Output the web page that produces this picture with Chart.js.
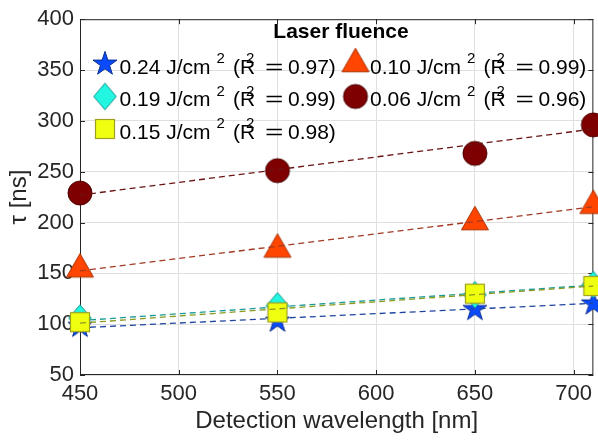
<!DOCTYPE html>
<html><head><meta charset="utf-8">
<script src="https://cdn.jsdelivr.net/npm/chart.js@4.4.1/dist/chart.umd.min.js"></script>
<style>html,body{margin:0;padding:0;background:#fff;overflow:hidden;} #wrap{width:598px;height:441px;position:relative;}</style>
</head><body><div id="wrap"><canvas id="c" width="598" height="441"></canvas></div>
<script>
// ---- data ----
const wavelengths = [450, 550, 650, 710];
const fluenceLabels = ['0.24', '0.19', '0.15', '0.10', '0.06'];
const r2Labels = ['0.97', '0.99', '0.98', '0.99', '0.96'];
const tau024 = [98, 103, 114.5, 120];
const tau019 = [106, 118, 129, 139];
const tau015 = [102, 111.5, 130, 137.5];
const tau010 = [154, 173.5, 200.5, 216.5];
const tau006 = [229, 251, 268, 296];
const fitRange = [450, 710];
const fit024 = [96.5, 120.5];
const fit019 = [103.5, 138.5];
const fit015 = [101, 137.5];
const fit010 = [152.5, 215.5];
const fit006 = [227, 292];
const xTicks = [450, 500, 550, 600, 650, 700];
const yTicks = [50, 100, 150, 200, 250, 300, 350, 400];
const xLabel = 'Detection wavelength [nm]';
const yLabel = 'τ [ns]';
const legendTitle = 'Laser fluence';

const FONT = '"Liberation Sans", Arial, Helvetica, sans-serif';
const AX = '#262626';

// ---- marker images ----
function mk(w, h, draw) {
  const c = document.createElement('canvas');
  c.width = w; c.height = h;
  const g = c.getContext('2d');
  draw(g);
  return c;
}
function star(fill, edge) {
  return mk(28, 28, g => {
    const cx = 14, cy = 14, R = 12.6, r = R * 0.382;
    g.beginPath();
    for (let i = 0; i < 10; i++) {
      const a = -Math.PI / 2 + i * Math.PI / 5;
      const rr = i % 2 ? r : R;
      g.lineTo(cx + rr * Math.cos(a), cy + rr * Math.sin(a));
    }
    g.closePath(); g.fillStyle = fill; g.fill();
    g.lineWidth = 1; g.strokeStyle = edge; g.stroke();
  });
}
function diamond(fill, edge) {
  return mk(26, 30, g => {
    g.beginPath();
    g.moveTo(13, 1.7); g.lineTo(24.3, 15); g.lineTo(13, 28.3); g.lineTo(1.7, 15);
    g.closePath(); g.fillStyle = fill; g.fill();
    g.lineWidth = 1; g.strokeStyle = edge; g.stroke();
  });
}
function square(fill, edge) {
  return mk(22, 22, g => {
    g.fillStyle = fill; g.fillRect(1.5, 1.5, 19, 19);
    g.lineWidth = 1.2; g.strokeStyle = edge; g.strokeRect(1.5, 1.5, 19, 19);
  });
}
function triangle(fill, edge) {
  return mk(30, 34, g => {
    g.beginPath();
    g.moveTo(15, 1.3); g.lineTo(28.5, 24.8); g.lineTo(1.5, 24.8);
    g.closePath(); g.fillStyle = fill; g.fill();
    g.lineWidth = 1; g.strokeStyle = edge; g.stroke();
  });
}
function circle(fill, edge) {
  return mk(28, 28, g => {
    g.beginPath(); g.arc(14, 14, 12, 0, Math.PI * 2);
    g.fillStyle = fill; g.fill();
    g.lineWidth = 1; g.strokeStyle = edge; g.stroke();
  });
}

const series = [
  { vals: tau024, fit: fit024, img: star('#0a4bff', '#0b2e8c'), line: '#1f45a0' },
  { vals: tau019, fit: fit019, img: diamond('#22f5e0', '#169a92'), line: '#1a9a94' },
  { vals: tau015, fit: fit015, img: square('#f0ff10', '#a0a020'), line: '#8a9a1e' },
  { vals: tau010, fit: fit010, img: triangle('#ff4500', '#a83000'), line: '#a03a22' },
  { vals: tau006, fit: fit006, img: circle('#7f0000', '#4a0000'), line: '#6a1414' },
];

const datasets = [];
series.forEach((s, k) => {
  datasets.push({
    data: wavelengths.map((x, i) => ({ x, y: s.vals[i] })),
    pointStyle: s.img, pointRadius: 12, showLine: false, clip: false,
    order: 100 - 2 * k
  });
  datasets.push({
    data: fitRange.map((x, i) => ({ x, y: s.fit[i] })),
    showLine: true, pointRadius: 0, borderColor: s.line, borderWidth: 1.3,
    borderDash: [6, 4], fill: false, order: 99 - 2 * k
  });
});

const boxPlugin = {
  id: 'box',
  beforeDatasetsDraw(chart) {
    const { ctx, chartArea: a, scales: { x, y } } = chart;
    ctx.save();
    ctx.strokeStyle = AX; ctx.lineWidth = 1;
    ctx.strokeRect(a.left + 0.5, a.top + 0.5, a.right - a.left - 1, a.bottom - a.top - 1);
    ctx.beginPath();
    const tl = 5;
    xTicks.forEach(v => {
      const p = Math.round(x.getPixelForValue(v)) + 0.5;
      ctx.moveTo(p, a.bottom); ctx.lineTo(p, a.bottom - tl);
      ctx.moveTo(p, a.top); ctx.lineTo(p, a.top + tl);
    });
    yTicks.forEach(v => {
      const p = Math.round(y.getPixelForValue(v)) + 0.5;
      ctx.moveTo(a.left, p); ctx.lineTo(a.left + tl, p);
      ctx.moveTo(a.right, p); ctx.lineTo(a.right - tl, p);
    });
    ctx.stroke();
    ctx.restore();
  }
};

const legendPlugin = {
  id: 'customLegend',
  afterDraw(chart) {
    const ctx = chart.ctx;
    ctx.save();
    ctx.fillStyle = '#000';
    ctx.textBaseline = 'alphabetic';
    ctx.font = 'bold 21px ' + FONT;
    ctx.textAlign = 'center';
    ctx.fillText(legendTitle, 341, 38);
    ctx.textAlign = 'left';
    const colX = [119.5, 370];
    const markX = [105, 355.5];
    const rows = [73.5, 106, 138.5];
    const big = '21px ' + FONT, small = '15px ' + FONT;
    series.forEach((s, k) => {
      const col = k < 3 ? 0 : 1;
      const row = k < 3 ? k : k - 3;
      const x0 = colX[col], b = rows[row];
      const img = s.img;
      ctx.drawImage(img, markX[col] - img.width / 2, b - 9.5 - img.height / 2);
      ctx.font = big; ctx.fillText(fluenceLabels[k] + ' J/cm', x0, b);
      ctx.font = small; ctx.fillText('2', x0 + 97, b - 10.5);
      ctx.font = big; ctx.fillText('(R', x0 + 113.5, b);
      ctx.font = small; ctx.fillText('2', x0 + 126.5, b - 10.5);
      ctx.save();
      ctx.translate(x0 + 145.5, b); ctx.scale(1.5, 1);
      ctx.font = big; ctx.fillText('=', 0, 0);
      ctx.restore();
      ctx.font = big;
      ctx.fillText(r2Labels[k] + ')', x0 + 168.5, b);
    });
    ctx.restore();
  }
};

new Chart(document.getElementById('c'), {
  type: 'scatter',
  data: { datasets },
  options: {
    responsive: false, animation: false, events: [],
    devicePixelRatio: 1,
    layout: { autoPadding: false, padding: { top: 12, right: 1, left: 0, bottom: 0 } },
    plugins: { legend: { display: false }, tooltip: { enabled: false } },
    scales: {
      x: {
        type: 'linear', min: 450, max: 710,
        afterBuildTicks: s => { s.ticks = xTicks.map(v => ({ value: v })); },
        afterFit: s => { s.height = 66; },
        grid: { color: '#dfdfdf', lineWidth: 1, drawTicks: false },
        border: { display: false },
        ticks: { color: AX, font: { family: FONT, size: 22 }, padding: 6, maxRotation: 0, autoSkip: false },
        title: { display: true, text: xLabel, color: AX, font: { family: FONT, size: 24 }, padding: { top: 0, bottom: 5 } }
      },
      y: {
        type: 'linear', min: 50, max: 400,
        afterBuildTicks: s => { s.ticks = yTicks.map(v => ({ value: v })); },
        afterFit: s => { s.width = 80; },
        grid: { color: '#dfdfdf', lineWidth: 1, drawTicks: false },
        border: { display: false },
        ticks: { color: AX, font: { family: FONT, size: 22 }, padding: 6, autoSkip: false },
        title: { display: true, text: yLabel, color: AX, font: { family: FONT, size: 24 }, padding: { top: 5, bottom: 0 } }
      }
    }
  },
  plugins: [boxPlugin, legendPlugin]
});
</script>
</body></html>
